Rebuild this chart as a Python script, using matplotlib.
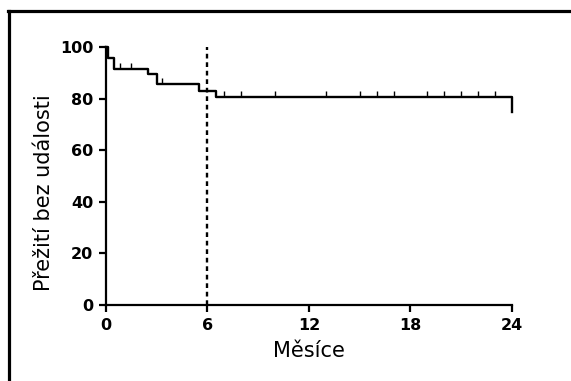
import numpy as np
import matplotlib.pyplot as plt
from matplotlib.lines import Line2D

# Kaplan-Meier steps (months, % event-free)
times = [0, 0.1, 0.45, 2.5, 3.0, 5.5, 6.5, 24]
surv = [100, 95.7, 91.3, 89.5, 85.5, 83.0, 80.6, 75.0]
censored = [0.8, 1.5, 3.3, 7, 8, 10, 13, 15, 16, 17, 19, 20, 21, 22, 23]
xticks = [0, 6, 12, 18, 24]
yticks = [0, 20, 40, 60, 80, 100]
cutoff = 6

fig = plt.figure(figsize=(5.71, 3.81), dpi=100)
ax = fig.add_axes([106/571, 1 - 305/381, 406/571, 258/381])

ax.step(times, surv, where='post', color='k', linewidth=1.7, clip_on=False)

# censor marks sit on the step curve
idx = np.searchsorted(times, censored, side='right') - 1
cy = np.array(surv)[idx]
ax.plot(censored, cy, linestyle='none', marker=2, markersize=4,
        markeredgewidth=1.0, color='k', clip_on=False)

ax.plot([cutoff, cutoff], [0, 100], color='k', linewidth=1.7,
        linestyle=(0, (2, 1.6)), clip_on=False)

ax.set_xlim(0, 24)
ax.set_ylim(0, 100)
ax.set_xticks(xticks)
ax.set_yticks(yticks)
for s in ['top', 'right']:
    ax.spines[s].set_visible(False)
for s in ['left', 'bottom']:
    ax.spines[s].set_linewidth(1.6)
ax.tick_params(width=1.6, length=5, pad=4, labelsize=11.5)
for lab in ax.get_xticklabels() + ax.get_yticklabels():
    lab.set_fontweight('bold')

ax.set_xlabel('Měsíce', fontsize=15, labelpad=6)
ax.set_ylabel('Přežití bez události', fontsize=15)
ax.yaxis.set_label_coords(-0.128, 0.434)

# outer frame (only top and left visible in the crop)
fig.add_artist(Line2D([9/571, 9/571], [0, 1 - 11.3/381], color='k',
                      linewidth=2.3, transform=fig.transFigure))
fig.add_artist(Line2D([7.5/571, 1], [1 - 11.3/381, 1 - 11.3/381], color='k',
                      linewidth=2.3, transform=fig.transFigure))

fig.savefig('out.png', dpi=100)
